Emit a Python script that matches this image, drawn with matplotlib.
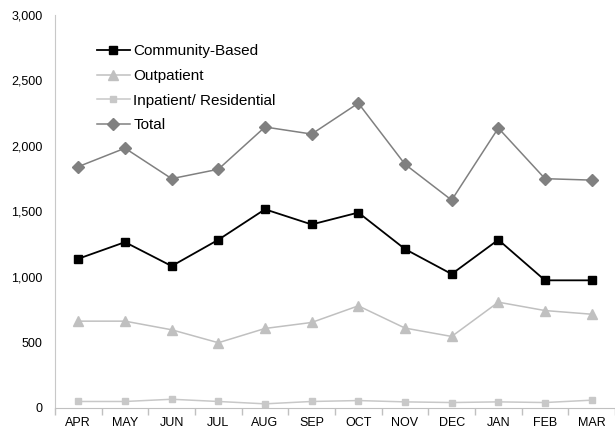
import matplotlib.pyplot as plt
import numpy as np

plt.rcParams['font.family'] = ['Liberation Sans', 'DejaVu Sans']

months = ['APR', 'MAY', 'JUN', 'JUL', 'AUG', 'SEP', 'OCT', 'NOV', 'DEC', 'JAN', 'FEB', 'MAR']
community = [1137, 1264, 1081, 1282, 1515, 1399, 1490, 1211, 1020, 1282, 972, 972]
outpatient = [660, 660, 594, 495, 604, 650, 777, 607, 543, 805, 741, 713]
inpatient = [46, 46, 63, 46, 28, 46, 53, 43, 38, 43, 38, 56]
total = [1841, 1982, 1749, 1821, 2144, 2090, 2326, 1859, 1585, 2136, 1749, 1738]

fig = plt.figure(figsize=(6.15, 4.41), dpi=100)
ax = fig.add_axes([55 / 615, 33.5 / 441, 560 / 615, 392.5 / 441])

x = np.arange(len(months))
ax.plot(x, community, color='black', lw=1.3, marker='s', ms=5.5, label='Community-Based')
ax.plot(x, outpatient, color='#c0c0c0', lw=1.1, marker='^', ms=7.5, label='Outpatient')
ax.plot(x, inpatient, color='#c8c8c8', lw=1.1, marker='s', ms=5, label='Inpatient/ Residential')
ax.plot(x, total, color='#808080', lw=1.1, marker='D', ms=6, label='Total')

ax.set_xlim(-0.5, len(months) - 0.5)
ax.set_ylim(0, 3000)
ax.set_yticks(np.arange(0, 3001, 500))
ax.set_yticklabels([f'{v:,}' for v in range(0, 3001, 500)])
ax.set_xticks(x)
ax.set_xticklabels(months)
ax.set_xticks(np.arange(-0.5, len(months), 1), minor=True)

ax.tick_params(axis='y', length=0, pad=9, labelsize=9)
ax.tick_params(axis='x', which='major', length=0, pad=7, labelsize=9)
ax.tick_params(axis='x', which='minor', length=5, color='#c0c0c0', width=1)

for side in ['top', 'right']:
    ax.spines[side].set_visible(False)
ax.spines['left'].set_color('#c8c8c8')
ax.spines['bottom'].set_color('#c0c0c0')

ax.legend(loc='upper left', bbox_to_anchor=(0.061, 0.945), frameon=False,
          fontsize=11, handlelength=2.15, handletextpad=0.25, labelspacing=0.7,
          numpoints=1, borderpad=0)

plt.savefig('out.png', dpi=100)
